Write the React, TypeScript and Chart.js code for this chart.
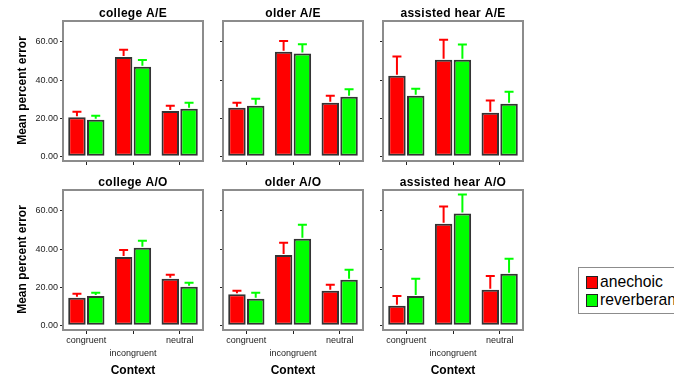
import React, { useEffect, useRef } from 'react';
import { Chart, registerables } from 'chart.js';

Chart.register(...registerables);

// ---- data ----
const contexts = ['congruent', 'incongruent', 'neutral'];
const seriesNames = ['anechoic', 'reverberant'];
const panelTitles = [
  'college A/E', 'older A/E', 'assisted hear A/E',
  'college A/O', 'older A/O', 'assisted hear A/O',
];
const yTicks = [0, 20, 40, 60];

// mean percent error per context, with standard error (upper bar)
const collegeAE_anechoic = [20.5, 52.1, 23.7];
const collegeAE_anechoicErr = [2.8, 3.8, 2.8];
const collegeAE_reverberant = [19.1, 47.0, 24.9];
const collegeAE_reverberantErr = [2.1, 3.5, 3.2];

const olderAE_anechoic = [25.4, 54.9, 28.1];
const olderAE_anechoicErr = [2.7, 5.6, 3.6];
const olderAE_reverberant = [26.5, 53.9, 31.2];
const olderAE_reverberantErr = [3.7, 4.9, 3.9];

const assistedAE_anechoic = [42.3, 50.7, 22.8];
const assistedAE_anechoicErr = [10.0, 10.5, 6.5];
const assistedAE_reverberant = [31.7, 50.7, 27.5];
const assistedAE_reverberantErr = [3.7, 7.9, 6.3];

const collegeAO_anechoic = [14.4, 35.8, 24.4];
const collegeAO_anechoicErr = [2.1, 3.7, 2.1];
const collegeAO_reverberant = [15.4, 40.7, 20.2];
const collegeAO_reverberantErr = [1.6, 3.7, 2.1];

const olderAO_anechoic = [16.3, 36.8, 18.1];
const olderAO_anechoicErr = [1.8, 6.5, 3.1];
const olderAO_reverberant = [13.9, 45.4, 23.9];
const olderAO_reverberantErr = [3.1, 7.4, 5.2];

const assistedAO_anechoic = [10.2, 53.3, 18.6];
const assistedAO_anechoicErr = [5.2, 9.0, 7.2];
const assistedAO_reverberant = [15.4, 58.6, 27.0];
const assistedAO_reverberantErr = [9.0, 10.0, 7.9];

const panelData = [
  [collegeAE_anechoic, collegeAE_anechoicErr, collegeAE_reverberant, collegeAE_reverberantErr],
  [olderAE_anechoic, olderAE_anechoicErr, olderAE_reverberant, olderAE_reverberantErr],
  [assistedAE_anechoic, assistedAE_anechoicErr, assistedAE_reverberant, assistedAE_reverberantErr],
  [collegeAO_anechoic, collegeAO_anechoicErr, collegeAO_reverberant, collegeAO_reverberantErr],
  [olderAO_anechoic, olderAO_anechoicErr, olderAO_reverberant, olderAO_reverberantErr],
  [assistedAO_anechoic, assistedAO_anechoicErr, assistedAO_reverberant, assistedAO_reverberantErr],
];

const RED = '#ff0000';
const GREEN = '#00ff00';
const FONT = '"Liberation Sans", Arial, Helvetica, sans-serif';

// gray box around the plotting area
const framePlugin = {
  id: 'panelFrame',
  beforeDatasetsDraw(chart: any) {
    const { ctx, chartArea: a } = chart;
    ctx.save();
    ctx.strokeStyle = '#8c8c8c';
    ctx.lineWidth = 2;
    ctx.strokeRect(a.left, a.top + 1, a.right - a.left, a.bottom - a.top - 1);
    ctx.restore();
  },
};

// upper standard-error whiskers in the series colour
const errorBarPlugin = {
  id: 'errorBars',
  afterDatasetsDraw(chart: any) {
    const { ctx } = chart;
    const yScale = chart.scales.y;
    chart.data.datasets.forEach((ds: any, i: number) => {
      const meta = chart.getDatasetMeta(i);
      ctx.save();
      ctx.strokeStyle = ds.whiskerColor;
      ctx.lineWidth = 2;
      meta.data.forEach((bar: any, j: number) => {
        const top = yScale.getPixelForValue(ds.data[j] + ds.errors[j]);
        ctx.beginPath();
        ctx.moveTo(bar.x, bar.y - 1);
        ctx.lineTo(bar.x, top);
        ctx.moveTo(bar.x - 4.5, top);
        ctx.lineTo(bar.x + 4.5, top);
        ctx.stroke();
      });
      ctx.restore();
    });
  },
};

// panel heading above the frame
const headingPlugin = {
  id: 'panelHeading',
  afterDraw(chart: any, _args: any, opts: any) {
    const { ctx, chartArea: a } = chart;
    ctx.save();
    ctx.font = `bold 12px ${FONT}`;
    ctx.fillStyle = '#000';
    ctx.textAlign = 'center';
    ctx.textBaseline = 'alphabetic';
    (ctx as any).letterSpacing = '0.3px';
    ctx.fillText(opts.text, (a.left + a.right) / 2, a.top - 2.7);
    ctx.restore();
  },
};

type PanelProps = { index: number };

function Panel({ index }: PanelProps) {
  const ref = useRef<HTMLCanvasElement>(null);
  const row = Math.floor(index / 3);
  const col = index % 3;
  const bottomRow = row === 1;
  const leftCol = col === 0;
  const width = 208;
  const height = bottomRow ? 212 : 170;

  useEffect(() => {
    const [a, aErr, r, rErr] = panelData[index];
    const chart = new Chart(ref.current as HTMLCanvasElement, {
      type: 'bar',
      data: {
        labels: contexts,
        datasets: [
          {
            label: seriesNames[0],
            data: a,
            errors: aErr,
            whiskerColor: RED,
            backgroundColor: RED,
            borderColor: '#333333',
            borderWidth: 2,
            borderSkipped: false,
          } as any,
          {
            label: seriesNames[1],
            data: r,
            errors: rErr,
            whiskerColor: GREEN,
            backgroundColor: GREEN,
            borderColor: '#333333',
            borderWidth: 2,
            borderSkipped: false,
          } as any,
        ],
      },
      options: {
        animation: false,
        responsive: false,
        devicePixelRatio: 1,
        categoryPercentage: 0.805,
        barPercentage: 0.93,
        layout: { padding: { top: 20, right: 5, left: 0, bottom: 0 } },
        plugins: {
          legend: { display: false },
          tooltip: { enabled: false },
          title: { display: false },
          panelHeading: { text: panelTitles[index] },
        } as any,
        scales: {
          x: {
            grid: {
              display: true,
              offset: false,
              drawOnChartArea: false,
              drawTicks: true,
              tickLength: 4,
              color: '#222',
            },
            border: { display: false },
            ticks: {
              display: bottomRow,
              autoSkip: false,
              maxRotation: 0,
              padding: 0,
              color: '#222',
              font: { family: FONT, size: 9, lineHeight: 1.45 },
              callback: (_v: any, i: number) => (i === 1 ? ['', contexts[i]] : contexts[i]),
            },
            title: {
              display: bottomRow,
              text: 'Context',
              color: '#000',
              font: { family: FONT, size: 12, weight: 'bold' },
              padding: { top: 0, bottom: 3 },
            },
            afterFit: (s: any) => {
              s.height = bottomRow ? 51 : 9;
            },
          } as any,
          y: {
            min: -2.5,
            max: 71.5,
            afterBuildTicks: (s: any) => {
              s.ticks = yTicks.map((v) => ({ value: v }));
            },
            grid: { drawOnChartArea: false, drawTicks: true, tickLength: 3, color: '#222' },
            border: { display: false },
            ticks: {
              padding: 2,
              color: '#222',
              font: { family: FONT, size: 9 },
              callback: (v: any) => (leftCol ? Number(v).toFixed(2) : ''),
            },
            title: {
              display: leftCol,
              text: 'Mean percent error',
              color: '#000',
              font: { family: FONT, size: 12, weight: 'bold' },
              padding: { top: 15.5, bottom: 0 },
            },
            afterFit: (s: any) => {
              s.width = 63;
            },
          } as any,
        },
      },
      plugins: [framePlugin, errorBarPlugin, headingPlugin],
    });
    return () => chart.destroy();
  }, [index]);

  return (
    <canvas
      ref={ref}
      width={width}
      height={height}
      style={{
        position: 'absolute',
        left: col * 160,
        top: bottomRow ? 169 : 0,
        width,
        height,
      }}
    />
  );
}

function Legend() {
  const items = [
    { name: seriesNames[0], color: RED },
    { name: seriesNames[1], color: GREEN },
  ];
  return (
    <div
      style={{
        position: 'absolute',
        left: 578,
        top: 267,
        width: 120,
        height: 47,
        border: '1px solid #8c8c8c',
        boxSizing: 'border-box',
        background: '#fff',
        fontFamily: FONT,
        fontSize: 15.7,
        color: '#000',
      }}
    >
      {items.map((it, i) => (
        <div
          key={it.name}
          style={{ position: 'absolute', left: 7, top: 6 + i * 18, height: 16, display: 'flex', alignItems: 'center', whiteSpace: 'nowrap' }}
        >
          <span
            style={{
              display: 'inline-block',
              width: 12,
              height: 13,
              boxSizing: 'border-box',
              border: '1px solid #222',
              background: it.color,
              marginRight: 2,
            }}
          />
          <span style={{ lineHeight: '16px' }}>{it.name}</span>
        </div>
      ))}
    </div>
  );
}

export default function App() {
  return (
    <div
      style={{
        position: 'fixed',
        left: 0,
        top: 0,
        width: 674,
        height: 378,
        overflow: 'hidden',
        background: '#fff',
      }}
    >
      {panelTitles.map((_, i) => (
        <Panel key={i} index={i} />
      ))}
      <Legend />
    </div>
  );
}
